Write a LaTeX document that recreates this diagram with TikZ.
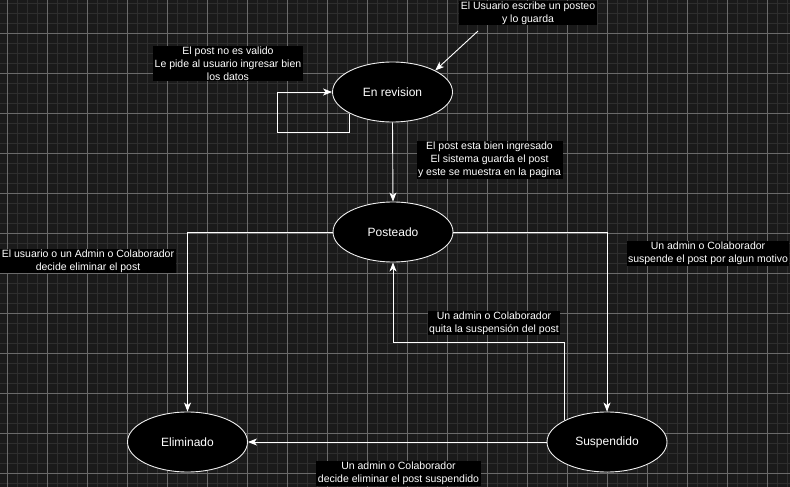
\documentclass[tikz,border=0pt]{standalone}
\usepackage{fontspec}
\setmainfont{Liberation Sans}
\usetikzlibrary{shapes.geometric,arrows.meta}
\definecolor{bgc}{HTML}{1A1A1A}
\definecolor{minorc}{HTML}{2E2E2E}
\definecolor{majorc}{HTML}{6A6A6A}
\definecolor{edgec}{HTML}{F0F0F0}
\tikzset{
  state/.style={ellipse, draw=edgec, line width=0.9pt, fill=black, text=white,
    minimum width=120pt, minimum height=60pt, inner sep=0pt,
    font=\fontsize{12}{14}\selectfont},
  lbl/.style={fill=black, text=white, align=center, inner xsep=1.5pt, inner ysep=1pt,
    font=\fontsize{10.5}{13}\selectfont},
  conn/.style={draw=white, line width=0.9pt, -{Stealth[length=9pt,width=7pt,inset=2.5pt]}},
  minorl/.style={draw=minorc, line width=0.8pt},
  majorl/.style={draw=majorc, line width=0.8pt}
}
\begin{document}
\begin{tikzpicture}[x=1pt,y=-1pt]
\useasboundingbox (0,0) rectangle (790,487);
\fill[bgc] (0,0) rectangle (790,487);
\foreach \x in {7,17,...,787} \draw[minorl] (\x,0) -- (\x,487);
\foreach \y in {3,13,...,483} \draw[minorl] (0,\y) -- (790,\y);
\foreach \x in {7,47,...,787} \draw[majorl] (\x,0) -- (\x,487);
\foreach \y in {33,73,...,473} \draw[majorl] (0,\y) -- (790,\y);

\node[state] (rev) at (392.5,92) {En revision};
\node[state] (post) at (393,232) {Posteado};
\node[state] (elim) at (187.5,442) {Eliminado};
\node[state] (susp) at (607,442) {Suspendido};

\node[lbl] (l1) at (228,63.5) {El post no es valido\\Le pide al usuario ingresar bien\\los datos};
\node[lbl] (l2) at (528,13) {El Usuario escribe un posteo\\y lo guarda};
\node[lbl] (l3) at (489.5,160) {El post esta bien ingresado\\El sistema guarda el post\\y este se muestra en la pagina};
\node[lbl] (l4) at (88,261) {El usuario o un Admin o Colaborador\\decide eliminar el post};
\node[lbl] (l5) at (708,253.5) {Un admin o Colaborador\\suspende el post por algun motivo};
\node[lbl] (l6) at (494,323) {Un admin o Colaborador\\quita la suspensión del post};
\node[lbl] (l7) at (398.5,473.5) {Un admin o Colaborador\\decide eliminar el post suspendido};

\coordinate (c2) at (478,31);
\coordinate (loopc) at (277,132);
\coordinate (q) at (393,342);

\draw[conn] (c2) -- (rev.north east);
\draw[conn] (rev.south west) |- (loopc) |- (rev.west);
\draw[conn] (rev.south) -- (post.north);
\draw[conn] (post.west) -| (elim.north);
\draw[conn] (post.east) -| (susp.north);
\draw[conn] (susp.north west) |- (q) -- (post.south);
\draw[conn] (susp.west) -- (elim.east);
\end{tikzpicture}
\end{document}
